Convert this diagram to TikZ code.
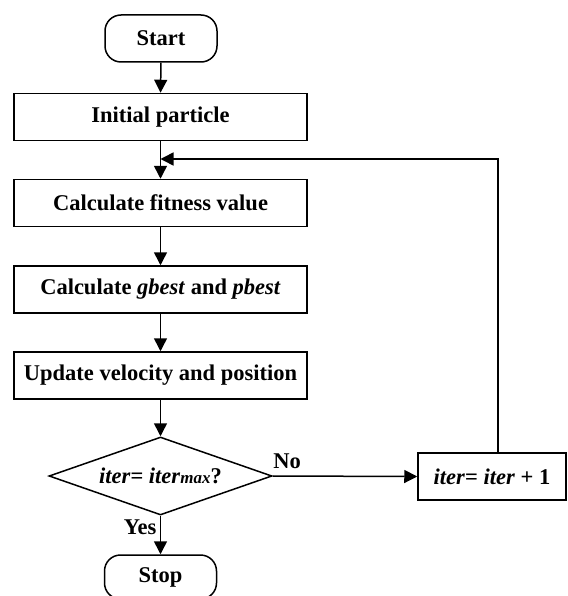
\documentclass[tikz,border=0pt]{standalone}
\usepackage{fontspec}
\setmainfont{Liberation Serif}
\usepackage{tikz}
\usetikzlibrary{shapes,arrows.meta,positioning}
\tikzstyle{procblock}=[rectangle, draw, align=center, line width=1.5pt, minimum width=293pt, minimum height=47pt, inner sep=0pt]
\tikzstyle{termblock}=[rectangle, rounded corners=16pt, draw, align=center, line width=1.5pt, minimum width=112pt, minimum height=47pt, inner sep=0pt]
\tikzstyle{decision}=[diamond, draw, align=center, line width=1.5pt, aspect=2.86, minimum width=223pt, minimum height=78pt, inner sep=0pt]
\tikzstyle{flowline}=[-{Triangle[length=13pt,width=13pt]}, line width=1.5pt]
\newcommand{\maxsub}{{\fontsize{17}{17}\selectfont\textit{max}}}

\begin{document}
\begin{tikzpicture}[x=1pt, y=1pt, every node/.style = {font=\fontsize{22.5}{26}\selectfont\bfseries}]
\useasboundingbox (0,0) rectangle (567,-596);

\node[termblock](start) at (161,-38.5) {Start};
\node[procblock](p1) at (160.5,-117) {Initial particle};
\node[procblock](p2) at (160.5,-203) {Calculate fitness value};
\node[procblock](p3) at (160.5,-289.5) {Calculate \textit{gbest} and \textit{pbest}};
\node[procblock](p4) at (160.5,-375.5) {Update velocity and position};
\node[decision](check) at (160.5,-476) {\textit{iter}= \textit{iter}\maxsub?};
\node[procblock, minimum width=148pt](upd) at (492,-476.5) {\textit{iter}= \textit{iter} + 1};
\node[termblock, minimum height=44pt](stop) at (160.5,-577) {Stop};

\coordinate (fbtop) at (498,-159);
\coordinate (fbin) at (160.5,-159);

\draw[flowline](start.south) -- (p1.north);
\draw[flowline](p1.south) -- (p2.north);
\draw[flowline](p2.south) -- (p3.north);
\draw[flowline](p3.south) -- (p4.north);
\draw[flowline](p4.south) -- (check.north);
\draw[flowline](check.east) -- node[pos=0.1, above, yshift=3pt] {No} (upd.west);
\draw[flowline](check.south) -- node[pos=0.3, left] {Yes} (stop.north);
\draw[flowline](upd.north -| fbtop) -- (fbtop) -- (fbin);

\end{tikzpicture}
\end{document}
